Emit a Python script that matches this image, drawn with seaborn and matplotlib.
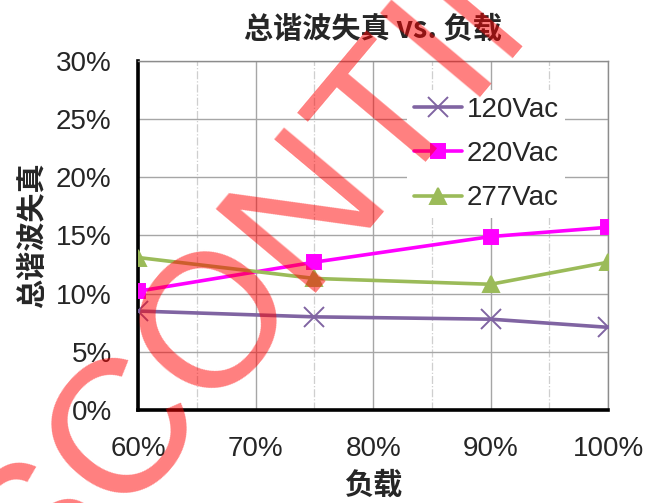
import numpy as np
import pandas as pd
import seaborn as sns
import matplotlib.pyplot as plt
from matplotlib.ticker import MultipleLocator, FuncFormatter

# data (load %, THD %)
load = [60, 75, 90, 100]
thd_120 = [8.5, 8.0, 7.8, 7.1]
thd_220 = [10.2, 12.7, 14.9, 15.7]
thd_277 = [13.1, 11.3, 10.8, 12.7]
series = ["120Vac", "220Vac", "277Vac"]

df = pd.DataFrame({
    "load": load * 3,
    "thd": thd_120 + thd_220 + thd_277,
    "series": np.repeat(series, len(load)),
})

sns.set_style("white")
plt.rcParams['font.family'] = ['Liberation Sans', 'DejaVu Sans']
cjk = ['Noto Sans CJK SC', 'DejaVu Sans']

palette = {"120Vac": "#8064A2", "220Vac": "#FF00FF", "277Vac": "#9BBB59"}
markers = {"120Vac": "x", "220Vac": "s", "277Vac": "^"}
msize = {"120Vac": 14, "220Vac": 9.5, "277Vac": 11}

fig = plt.figure(figsize=(6.45, 5.03), dpi=100)
ax = fig.add_axes([0.214, 0.185, 0.729, 0.694])

for name in series:
    sub = df[df["series"] == name]
    sns.lineplot(data=sub, x="load", y="thd", color=palette[name], marker=markers[name],
                 markersize=msize[name], markeredgewidth=1.4, markeredgecolor=palette[name],
                 linewidth=2.6, label=name, ax=ax, zorder=3)

ax.set_xlim(60, 100)
ax.set_ylim(0, 30)
ax.xaxis.set_major_locator(MultipleLocator(10))
ax.xaxis.set_minor_locator(MultipleLocator(5))
ax.yaxis.set_major_locator(MultipleLocator(5))
fmt = FuncFormatter(lambda v, p: f"{v:.0f}%")
ax.xaxis.set_major_formatter(fmt)
ax.yaxis.set_major_formatter(fmt)

ax.grid(True, which="major", axis="both", color="#A6A6A6", linewidth=1.0)
ax.grid(True, which="minor", axis="x", color="#CFCFCF", linewidth=0.9, linestyle="-.")
ax.set_axisbelow(True)

ax.tick_params(axis="both", which="major", direction="in", length=6, width=2.5,
               labelsize=20, pad=19, color="black")
ax.tick_params(axis="x", which="minor", length=0)

for s in ["left", "bottom"]:
    ax.spines[s].set_color("black")
    ax.spines[s].set_linewidth(2.6)
for s in ["top", "right"]:
    ax.spines[s].set_color("#8C8C8C")
    ax.spines[s].set_linewidth(1.0)

ax.set_title("总谐波失真 vs. 负载", family=cjk, fontweight="bold", fontsize=21, pad=17)
ax.set_xlabel("负载", family=cjk, fontweight="bold", fontsize=21, labelpad=5)
ax.set_ylabel("总谐波失真", family=cjk, fontweight="bold", fontsize=21, labelpad=6)

leg = ax.legend(loc="upper right", bbox_to_anchor=(0.909, 0.917), frameon=True,
                fontsize=20, handlelength=1.75, handletextpad=0.15,
                labelspacing=0.66, borderpad=0.25, borderaxespad=0)
leg.get_frame().set_edgecolor("none")
leg.get_frame().set_facecolor("white")
leg.get_frame().set_alpha(1)

# diagonal watermark (only the middle letters fall on the canvas)
fig.text(-0.134, -0.499, "DISCONTINUED", fontsize=137, color="#FF0000", alpha=0.5,
         rotation=50, rotation_mode="anchor", ha="left", va="baseline",
         family="Liberation Sans", zorder=10)

fig.savefig("out.png", dpi=100)
